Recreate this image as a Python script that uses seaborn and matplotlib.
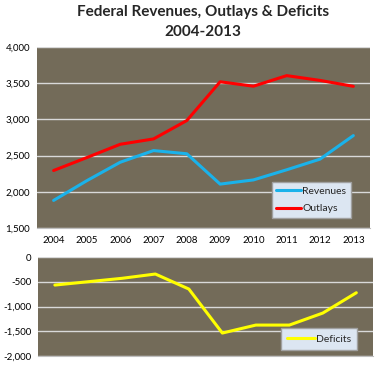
import matplotlib
matplotlib.use("Agg")
import matplotlib.pyplot as plt
import matplotlib.ticker as mticker
import pandas as pd
import seaborn as sns

years = [2004, 2005, 2006, 2007, 2008, 2009, 2010, 2011, 2012, 2013]
revenues = [1880, 2153, 2407, 2568, 2524, 2105, 2163, 2303, 2450, 2775]
outlays = [2293, 2472, 2655, 2729, 2983, 3518, 3457, 3603, 3537, 3455]
deficits = [-566, -498, -430, -343, -646, -1535, -1374, -1374, -1131, -721]

bg = "#736B59"
grid_c = "#D9D9D9"
label_c = "#404040"

sns.set_style("white")
plt.rcParams["font.family"] = ["Lato", "DejaVu Sans"]

df = pd.DataFrame({"year": [str(y) for y in years], "Revenues": revenues,
                   "Outlays": outlays, "Deficits": deficits})
df["x"] = range(len(years))

fig = plt.figure(figsize=(3.85, 3.78), dpi=100)
ax1 = fig.add_axes([0.096, 0.397, 0.865, 0.479])
ax2 = fig.add_axes([0.099, 0.058, 0.870, 0.262])

fig.text(0.527, 0.968, "Federal Revenues, Outlays & Deficits", ha="center", va="center",
         fontsize=11, fontweight="bold")
fig.text(0.527, 0.915, "2004-2013", ha="center", va="center", fontsize=11, fontweight="bold")


def style_axis(ax):
    ax.set_facecolor(bg)
    for s in ax.spines.values():
        s.set_visible(False)
    ax.yaxis.grid(True, color=grid_c, linewidth=1.0)
    ax.set_axisbelow(True)
    ax.yaxis.set_major_formatter(mticker.FuncFormatter(lambda v, p: f"{v:,.0f}"))
    ax.tick_params(axis="y", labelsize=7, colors=label_c, length=3, width=0.6, pad=2,
                   labelcolor="black")
    ax.set_xlim(-0.5, len(years) - 0.5)
    ax.set_xlabel("")
    ax.set_ylabel("")


sns.lineplot(data=df, x="x", y="Revenues", ax=ax1, color="#1AB2EA", linewidth=2.2, label="Revenues")
sns.lineplot(data=df, x="x", y="Outlays", ax=ax1, color="#FF0000", linewidth=2.2, label="Outlays")
style_axis(ax1)
ax1.set_ylim(1500, 4000)
ax1.set_yticks([1500, 2000, 2500, 3000, 3500, 4000])
ax1.set_xticks(df["x"])
ax1.set_xticklabels(df["year"])
ax1.set_xticks([i - 0.5 for i in range(len(years) + 1)], minor=True)
ax1.tick_params(axis="x", which="major", length=0, labelsize=7, pad=6, labelcolor="black")
ax1.tick_params(axis="x", which="minor", length=4, width=0.6, color="#808080")
ax1.spines["bottom"].set_visible(True)
ax1.spines["bottom"].set_color("#BFBFBF")
ax1.legend(loc="lower right", bbox_to_anchor=(0.943, 0.055), fontsize=7.5, frameon=True,
           facecolor="#DCE6F2", edgecolor="#A0A0A0", framealpha=1, fancybox=False,
           handlelength=2.4, handletextpad=0.1, borderpad=0.45, labelspacing=0.8,
           borderaxespad=0)

sns.lineplot(data=df, x="x", y="Deficits", ax=ax2, color="#FFFF00", linewidth=2.2, label="Deficits")
style_axis(ax2)
ax2.set_ylim(-2000, 0)
ax2.set_yticks([-2000, -1500, -1000, -500, 0])
ax2.set_xticks([])
ax2.spines["bottom"].set_visible(True)
ax2.spines["bottom"].set_color("#BFBFBF")
ax2.legend(loc="lower right", bbox_to_anchor=(0.952, 0.06), fontsize=7.5, frameon=True,
           facecolor="#DCE6F2", edgecolor="#A0A0A0", framealpha=1, fancybox=False,
           handlelength=2.6, handletextpad=0.1, borderpad=0.6, borderaxespad=0)

fig.savefig("out.png", dpi=100)
